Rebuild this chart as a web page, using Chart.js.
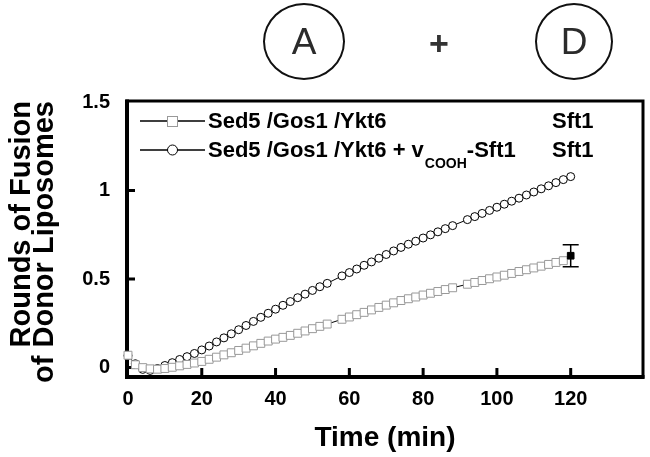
<!DOCTYPE html>
<html>
<head>
<meta charset="utf-8">
<script src="https://cdn.jsdelivr.net/npm/chart.js@4.4.0/dist/chart.umd.min.js"></script>
<style>
  body { margin: 0; background: #fff; }
  #marco { position: relative; width: 650px; height: 457px; }
  #grafica { position: absolute; left: 0; top: 0; }
  .circulo {
    position: absolute; top: 3px; height: 77px;
    border: 2px solid #111; border-radius: 50%; box-sizing: border-box;
    display: flex; align-items: center; justify-content: center;
    font: 37px "Liberation Sans", Arial, sans-serif; color: #2b2b2b;
  }
  #mas {
    position: absolute; left: 424px; top: 24px; width: 30px; text-align: center;
    font: bold 34px "Liberation Sans", Arial, sans-serif; color: #333;
  }
</style>
</head>
<body>
<div id="marco">
  <canvas id="grafica" width="650" height="457"></canvas>
  <div class="circulo" style="left:263px;width:82px;">A</div>
  <div id="mas">+</div>
  <div class="circulo" style="left:535px;width:78px;">D</div>
</div>
<script>
// tiempo (min)
const TIEMPO = [0, 2, 4, 6, 8, 10, 12, 14, 16, 18, 20, 22, 24, 26, 28, 30, 32, 34, 36, 38,
  40, 42, 44, 46, 48, 50, 52, 54, 56, 58, 60, 62, 64, 66, 68, 70, 72, 74, 76, 78,
  80, 82, 84, 86, 88, 90, 92, 94, 96, 98, 100, 102, 104, 106, 108, 110, 112, 114, 116, 118, 120];

// Sed5 /Gos1 /Ykt6  (cuadrados)
const SERIE_YKT6 = [0.070, 0.016, 0.000, -0.007, -0.009, -0.005, 0.002, 0.010, 0.018, 0.026,
  0.035, 0.047, 0.059, 0.072, 0.084, 0.097, 0.110, 0.123, 0.137, 0.150,
  0.161, 0.171, 0.182, 0.194, 0.207, 0.220, 0.233, 0.246, null, 0.273,
  0.286, 0.299, 0.312, 0.326, 0.340, 0.353, 0.366, 0.379, 0.389, 0.399,
  0.410, 0.420, 0.430, 0.441, 0.451, null, 0.471, 0.481, 0.492, 0.502,
  0.512, 0.522, 0.532, 0.543, 0.553, 0.563, 0.573, 0.583, 0.594, 0.604, null];

// Sed5 /Gos1 /Ykt6 + vCOOH-Sft1  (circulos)
const SERIE_VCOOH = [0.068, 0.022, -0.010, -0.016, -0.005, 0.012, 0.028, 0.046, 0.062, 0.080,
  0.100, 0.122, 0.145, 0.168, 0.191, 0.214, 0.238, 0.261, 0.284, 0.307,
  0.330, 0.352, 0.373, 0.395, 0.415, 0.436, 0.457, 0.476, null, 0.518,
  0.537, 0.557, 0.578, 0.597, 0.618, 0.639, 0.659, 0.679, 0.697, 0.714,
  0.732, 0.750, 0.767, 0.785, 0.802, null, 0.836, 0.853, 0.871, 0.888,
  0.906, 0.923, 0.940, 0.957, 0.975, 0.992, 1.010, 1.027, 1.045, 1.062, 1.079];

// punto final con barra de error
const FINAL_X = [120];
const FINAL_Y = [0.632];
const FINAL_ERR = [0.062];

const X_TICKS = [0, 20, 40, 60, 80, 100, 120];
const X_LABELS = ['0', '20', '40', '60', '80', '100', '120'];
const Y_TICKS = [0, 0.5, 1, 1.5];
const Y_LABELS = ['0', '0.5', '1', '1.5'];

const FUENTE = '"Liberation Sans", Arial, Helvetica, sans-serif';

function puntos(xs, ys) {
  return xs.map((t, i) => ({ x: t, y: ys[i] }));
}

// marco negro, ejes gruesos y marcas hacia dentro
const marcoPlugin = {
  id: 'marco',
  beforeDatasetsDraw(chart) {
    const { ctx, chartArea: a, scales: { x, y } } = chart;
    ctx.save();
    ctx.strokeStyle = '#000';
    ctx.lineWidth = 3;
    ctx.strokeRect(a.left, a.top, a.right - a.left, a.bottom - a.top);
    ctx.lineWidth = 4;
    ctx.beginPath();
    ctx.moveTo(a.left, a.top - 1.5);
    ctx.lineTo(a.left, a.bottom);
    ctx.lineTo(a.right + 1.5, a.bottom);
    ctx.stroke();

    ctx.lineWidth = 3;
    ctx.beginPath();
    X_TICKS.forEach(v => {
      const px = x.getPixelForValue(v);
      if (px - a.left < 4) return;
      ctx.moveTo(px, a.bottom);
      ctx.lineTo(px, a.bottom - 9);
    });
    Y_TICKS.forEach(v => {
      const py = y.getPixelForValue(v);
      if (py - a.top < 4) return;
      ctx.moveTo(a.left, py);
      ctx.lineTo(a.left + 8, py);
    });
    ctx.stroke();
    ctx.restore();
  }
};

const errorPlugin = {
  id: 'errores',
  afterDatasetsDraw(chart) {
    const { ctx, scales: { x, y } } = chart;
    ctx.save();
    ctx.strokeStyle = '#000';
    ctx.lineWidth = 1.5;
    FINAL_X.forEach((t, i) => {
      const px = x.getPixelForValue(t);
      const arriba = y.getPixelForValue(FINAL_Y[i] + FINAL_ERR[i]);
      const abajo = y.getPixelForValue(FINAL_Y[i] - FINAL_ERR[i]);
      ctx.beginPath();
      ctx.moveTo(px, arriba); ctx.lineTo(px, abajo);
      ctx.moveTo(px - 8, arriba); ctx.lineTo(px + 8, arriba);
      ctx.moveTo(px - 8, abajo); ctx.lineTo(px + 8, abajo);
      ctx.stroke();
    });
    ctx.restore();
  }
};

// leyenda dentro del grafico
const leyendaPlugin = {
  id: 'leyenda',
  afterDraw(chart) {
    const ctx = chart.ctx;
    ctx.save();
    ctx.strokeStyle = '#000';
    ctx.lineWidth = 1.5;
    ctx.beginPath();
    ctx.moveTo(140, 121); ctx.lineTo(205, 121);
    ctx.moveTo(140, 150); ctx.lineTo(205, 150);
    ctx.stroke();

    ctx.lineWidth = 1;
    ctx.fillStyle = '#fff';
    ctx.strokeStyle = '#999';
    ctx.fillRect(167, 116, 10, 10);
    ctx.strokeRect(167.5, 116.5, 10, 10);
    ctx.strokeStyle = '#000';
    ctx.beginPath();
    ctx.arc(172.5, 150, 5, 0, Math.PI * 2);
    ctx.fill();
    ctx.stroke();

    ctx.fillStyle = '#000';
    ctx.textBaseline = 'alphabetic';
    ctx.textAlign = 'left';
    ctx.font = 'bold 22px ' + FUENTE;
    ctx.fillText('Sed5 /Gos1 /Ykt6', 208, 128);
    ctx.fillText('Sft1', 552, 128);

    const parte1 = 'Sed5 /Gos1 /Ykt6 + v';
    ctx.fillText(parte1, 208, 157);
    let xpos = 208 + ctx.measureText(parte1).width + 1;
    ctx.font = 'bold 14px ' + FUENTE;
    ctx.fillText('COOH', xpos, 168);
    xpos += ctx.measureText('COOH').width;
    ctx.font = 'bold 22px ' + FUENTE;
    ctx.fillText('-Sft1', xpos, 157);
    ctx.fillText('Sft1', 552, 157);
    ctx.restore();
  }
};

const ctx = document.getElementById('grafica').getContext('2d');
const grafica = new Chart(ctx, {
  type: 'line',
  data: {
    datasets: [
      {
        label: 'final',
        data: puntos(FINAL_X, FINAL_Y),
        showLine: false,
        pointStyle: 'rect',
        pointRadius: 4.7,
        pointBackgroundColor: '#000',
        pointBorderColor: '#000',
        pointBorderWidth: 1,
        clip: false
      },
      {
        label: 'Sed5 /Gos1 /Ykt6',
        data: puntos(TIEMPO, SERIE_YKT6),
        borderColor: '#000',
        borderWidth: 1,
        spanGaps: true,
        pointStyle: 'rect',
        pointRadius: 5.6,
        pointBackgroundColor: '#fff',
        pointBorderColor: '#999',
        pointBorderWidth: 1,
        clip: false
      },
      {
        label: 'Sed5 /Gos1 /Ykt6 + vCOOH-Sft1',
        data: puntos(TIEMPO, SERIE_VCOOH),
        borderColor: '#000',
        borderWidth: 1,
        spanGaps: true,
        pointStyle: 'circle',
        pointRadius: 4,
        pointBackgroundColor: '#fff',
        pointBorderColor: '#000',
        pointBorderWidth: 1,
        clip: false
      }
    ]
  },
  options: {
    responsive: false,
    animation: false,
    events: [],
    devicePixelRatio: 1,
    layout: { padding: { left: 0, right: 7, top: 101, bottom: 0 } },
    plugins: {
      legend: { display: false },
      tooltip: { enabled: false }
    },
    scales: {
      x: {
        type: 'linear',
        min: -0.27,
        max: 139.6,
        afterBuildTicks: scale => { scale.ticks = X_TICKS.map(v => ({ value: v })); },
        afterFit: scale => { scale.height = 80; },
        grid: { display: false, drawTicks: false },
        border: { display: false },
        ticks: {
          autoSkip: false,
          maxRotation: 0,
          padding: 10,
          color: '#000',
          font: { family: FUENTE, size: 20, weight: 'bold' },
          callback: (v, i) => X_LABELS[i]
        },
        title: {
          display: true,
          text: 'Time (min)',
          color: '#000',
          font: { family: FUENTE, size: 28, weight: 'bold' },
          padding: { top: 0, bottom: 2 }
        }
      },
      y: {
        min: -0.053,
        max: 1.506,
        afterBuildTicks: scale => { scale.ticks = Y_TICKS.map(v => ({ value: v })); },
        afterFit: scale => { scale.width = 127; },
        grid: { display: false, drawTicks: false },
        border: { display: false },
        ticks: {
          padding: 17,
          color: '#000',
          font: { family: FUENTE, size: 20, weight: 'bold' },
          callback: (v, i) => Y_LABELS[i]
        },
        title: {
          display: true,
          text: ['Rounds of Fusion', 'of Donor Liposomes'],
          align: 'end',
          color: '#000',
          font: { family: FUENTE, size: 29, weight: 'bold', lineHeight: 0.78 },
          padding: { top: 11, bottom: 0 }
        }
      }
    }
  },
  plugins: [marcoPlugin, errorPlugin, leyendaPlugin]
});
</script>
</body>
</html>
